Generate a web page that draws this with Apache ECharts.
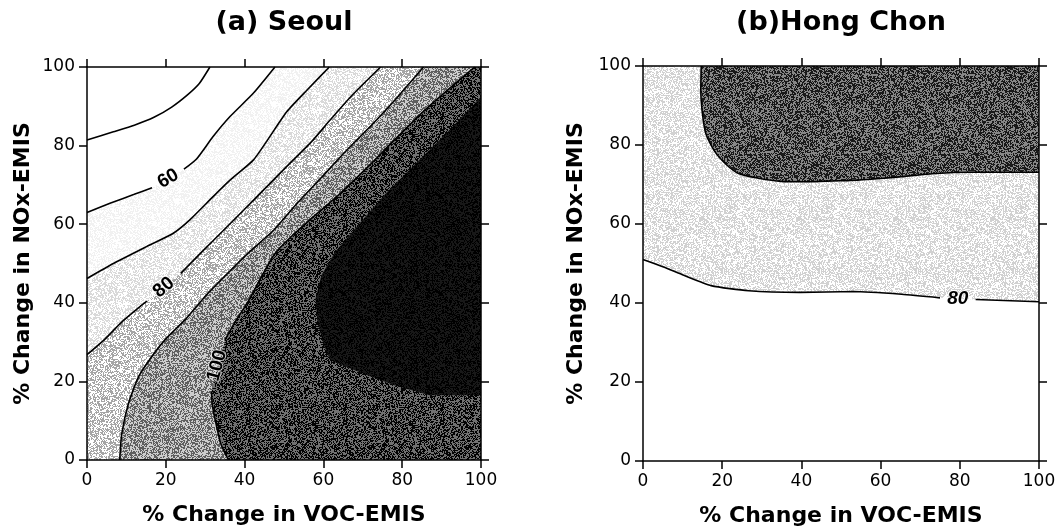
<!DOCTYPE html>
<html>
<head>
<meta charset="utf-8">
<script src="https://cdn.jsdelivr.net/npm/echarts@6/dist/echarts.min.js"></script>
<style>
  html, body { margin: 0; padding: 0; background: #fff; }
  #main { width: 1059px; height: 532px; }
</style>
</head>
<body>
<div id="main"></div>
<script>
// axis range (both panels)
var axisMin = 0, axisMax = 100, axisStep = 20;

// (a) Seoul – contour lines, [VOC %, NOx %]; '-' = gap for a label
var seoulC40 = [[0,81.4],[6.7,83.5],[12,85.2],[17,87.2],[21.5,89.8],[25.5,92.9],[28.5,95.8],[31.2,100]];
var seoulC60 = [[0,63],[6,65.4],[12,67.6],[16.5,69.3],'-',[24.6,74],[27.8,76.6],[32,82.3],[36.3,87.4],[42.2,93.3],[47.7,100]];
var seoulC70 = [[0,46.2],[6.7,50],[15.1,54.3],[21.9,57.7],[26.1,61.1],[32,67],[36.3,71.2],[42.2,76.3],[45.8,81.4],[50.7,88.6],[55.8,94.1],[61.5,100]];
var seoulC80 = [[0,26.8],[4.5,30.7],[8.8,35.1],[13.9,39.4],[15.2,40.4],'-',[23.8,47.5],[29.4,53.2],[34.6,58.4],[39.8,63.6],[44.9,68.8],[50.9,74.9],[57,81],[61.7,86.5],[67,92.5],[74.5,100]];
var seoulC90 = [[8.3,0],[8.8,6.5],[10.5,14.3],[13.1,21.2],[16.5,26.4],[19.9,30.7],[25.1,35.9],[30.3,42],[36.3,48.1],[41.5,53.2],[47.5,58.6],[53.5,65.5],[59.6,72],[65.6,78.5],[72.5,85.5],[78.5,92],[85.4,100]];
var seoulC100 = [[35.9,0],[34,4],[32.9,8.5],[31.8,14],[31.6,17.5],'-',[35,30.5],[37.5,35],[41,40.5],[44.1,46.3],[47,51.5],[49,54],[52,57],[57,61.5],[63.9,67.5],[70.7,74],[77.6,81],[85.4,88.7],[92.3,94.8],[98.4,100]];
var seoulCore = [[100,92.4],[92,84],[84,76],[76,68],[69,60],[63,53],[59.5,47],[58,41],[58.5,35],[60,29.5],[61.7,25.4],[70,22],[78,19],[87,16.5],[100,16.5]];
var seoulLabels = [{ text: '60', at: [20.6,71.6], angle: 30 }, { text: '80', at: [19.5,43.9], angle: 40 }, { text: '100', at: [33.0,24], angle: 75 }];

// (b) Hong Chon
var hongTop = [[14.7,100],[14.6,94],[15,88],[15.9,82.8],[18.1,78.4],[21.1,75],[24.1,72.8],[29.2,71.6],[35,70.8],[42,70.7],[48,70.9],[54.2,71.1],[60,71.5],[65.3,72],[74,72.8],[82.5,73.1],[100,73.1]];
var hongC80 = [[0,51],[5.2,49.1],[10.3,47],[17.2,44.4],[26.7,43.1],[39.6,42.7],[53.3,42.9],[65.3,42.2],[75,41.3],'-',[84,40.9],[100,40.3]];
var hongLabels = [{ text: '80', at: [79.5,41.1], angle: 0 }];

// grey level of each filled band (lighter -> darker)
var seoulTones = [248, 236, 210, 150, 58, 12];
var hongTones = [232, 80];

function hash(x, y, s) {
  var h = Math.imul(x, 374761393) + Math.imul(y, 668265263) + Math.imul(s, 982451653) | 0;
  h = Math.imul(h ^ (h >>> 13), 1274126177);
  h = h ^ (h >>> 16);
  return (h >>> 0) / 4294967296;
}

// scanned-looking grain for the shaded bands
function stipple(level, seed) {
  var n = 97, c = document.createElement('canvas');
  c.width = c.height = n;
  var ctx = c.getContext('2d'), img = ctx.createImageData(n, n);
  var d = Math.min(level, 255 - level, 55);
  for (var y = 0; y < n; y++) {
    for (var x = 0; x < n; x++) {
      var v = hash(x, y, seed) < 0.5 ? level - d : level + d;
      var i = (y * n + x) * 4;
      img.data[i] = img.data[i + 1] = img.data[i + 2] = v;
      img.data[i + 3] = 255;
    }
  }
  ctx.putImageData(img, 0, 0);
  return { image: c, repeat: 'repeat' };
}

function pts(line) { return line.filter(function (p) { return p !== '-'; }); }

var seoulRegions = [
  pts(seoulC60).concat([[100,100],[100,0],[0,0]]),
  pts(seoulC70).concat([[100,100],[100,0],[0,0]]),
  pts(seoulC80).concat([[100,100],[100,0],[0,0]]),
  pts(seoulC90).concat([[100,100],[100,0]]),
  pts(seoulC100).concat([[100,100],[100,0]]),
  seoulCore
];
var hongRegions = [
  pts(hongC80).concat([[100,100],[0,100]]),
  pts(hongTop).concat([[100,100]])
];

function regionSeries(regions, tones, g) {
  var fills = tones.map(function (t, i) { return stipple(t, i + 7 * g + 1); });
  return {
    type: 'custom', xAxisIndex: g * 2, yAxisIndex: g * 2, silent: true, z: 1,
    data: regions.map(function (r, i) { return [i, 0]; }),
    renderItem: function (params, api) {
      var r = regions[params.dataIndex];
      return { type: 'polygon', shape: { points: r.map(function (p) { return api.coord(p); }) },
               style: { fill: fills[params.dataIndex] } };
    }
  };
}

function lineSeries(data, g) {
  return { type: 'line', xAxisIndex: g * 2, yAxisIndex: g * 2, data: data, symbol: 'none',
           smooth: 0.2, silent: true, z: 5, connectNulls: false,
           lineStyle: { color: '#000', width: 1.6 } };
}

// contour value labels, placed in the gaps of the lines
function labelSeries(labels, g, italic) {
  var font = (italic ? 'italic ' : '') + 'bold 19px "Liberation Sans"';
  return {
    type: 'custom', xAxisIndex: g * 2, yAxisIndex: g * 2, silent: true, z: 6,
    data: labels.map(function (l) { return l.at; }),
    renderItem: function (params, api) {
      var l = labels[params.dataIndex], p = api.coord(l.at);
      return { type: 'text', x: p[0], y: p[1], rotation: l.angle * Math.PI / 180,
               style: { text: l.text, font: font, fill: '#000', align: 'center', verticalAlign: 'middle',
                        stroke: 'rgba(255,255,255,0.7)', lineWidth: 2 } };
    }
  };
}

var tickFont = { color: '#000', fontSize: 17, fontFamily: 'DejaVu Sans' };
var nameFont = { color: '#000', fontSize: 22, fontWeight: 'bold', fontFamily: 'DejaVu Sans' };
var axLine = { onZero: false, lineStyle: { color: '#000', width: 1.5 } };
var axTick = { inside: false, length: 8, lineStyle: { color: '#000', width: 1.5 } };

function xAx(g, pos, named) {
  return { type: 'value', gridIndex: g, position: pos, min: axisMin, max: axisMax, interval: axisStep, z: 10,
           axisLine: axLine, axisTick: axTick, splitLine: { show: false },
           axisLabel: Object.assign({ show: named, margin: 12 }, tickFont),
           name: named ? '% Change in VOC-EMIS' : '', nameLocation: 'middle', nameGap: 44, nameTextStyle: nameFont };
}
function yAx(g, pos, named, gap) {
  return { type: 'value', gridIndex: g, position: pos, min: axisMin, max: axisMax, interval: axisStep, z: 10,
           axisLine: axLine, axisTick: axTick, splitLine: { show: false },
           axisLabel: Object.assign({ show: named, margin: 12 }, tickFont),
           name: named ? '% Change in NOx-EMIS' : '', nameLocation: 'middle', nameGap: gap, nameTextStyle: nameFont };
}

var chart = echarts.init(document.getElementById('main'));
var option = {
  animation: false,
  backgroundColor: '#fff',
  graphic: [
    { type: 'text', x: 284, y: 23, style: { text: '(a) Seoul', fill: '#000', font: 'bold 27px "DejaVu Sans"', align: 'center', verticalAlign: 'middle' } },
    { type: 'text', x: 841, y: 23, style: { text: '(b)Hong Chon', fill: '#000', font: 'bold 27px "DejaVu Sans"', align: 'center', verticalAlign: 'middle' } }
  ],
  grid: [
    { left: 87, top: 67, width: 394, height: 393, show: false },
    { left: 643, top: 66, width: 396, height: 395, show: false }
  ],
  xAxis: [xAx(0, 'bottom', true), xAx(0, 'top', false), xAx(1, 'bottom', true), xAx(1, 'top', false)],
  yAxis: [yAx(0, 'left', true, 53), yAx(0, 'right', false, 0), yAx(1, 'left', true, 56), yAx(1, 'right', false, 0)],
  series: [
    regionSeries(seoulRegions, seoulTones, 0),
    lineSeries(seoulC40, 0), lineSeries(seoulC60, 0), lineSeries(seoulC70, 0),
    lineSeries(seoulC80, 0), lineSeries(seoulC90, 0), lineSeries(seoulC100, 0),
    labelSeries(seoulLabels, 0, false),
    regionSeries(hongRegions, hongTones, 1),
    lineSeries(hongTop, 1), lineSeries(hongC80, 1),
    labelSeries(hongLabels, 1, true)
  ]
};
option && chart.setOption(option);
window.addEventListener('resize', chart.resize);
</script>
</body>
</html>
